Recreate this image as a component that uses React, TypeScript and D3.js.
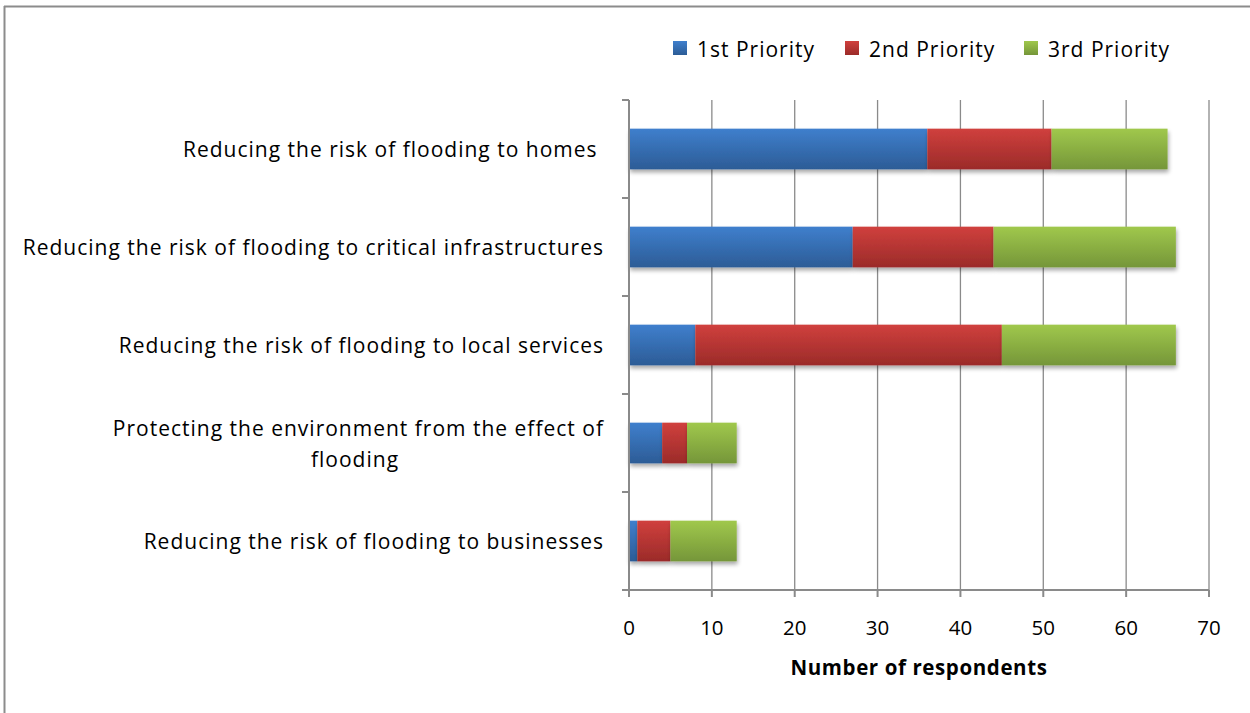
import React from "react";
import * as d3 from "d3";

const categories = [
  "Reducing the risk of flooding to homes ",
  "Reducing the risk of flooding to critical infrastructures",
  "Reducing the risk of flooding to local services",
  "Protecting the environment from the effect of flooding",
  "Reducing the risk of flooding to businesses",
];
const labelLines = [
  ["Reducing the risk of flooding to homes "],
  ["Reducing the risk of flooding to critical infrastructures"],
  ["Reducing the risk of flooding to local services"],
  ["Protecting the environment from the effect of", "flooding"],
  ["Reducing the risk of flooding to businesses"],
];
const seriesNames = ["1st Priority", "2nd Priority", "3rd Priority"];
const first = [36, 27, 8, 4, 1];
const second = [15, 17, 37, 3, 4];
const third = [14, 22, 21, 6, 8];
const xTicks = [0, 10, 20, 30, 40, 50, 60, 70];

const gradients = [
  ["#3f7fcd", "#2c5c96"],
  ["#d0403d", "#9b2b29"],
  ["#a0c84c", "#759639"],
];

const W = 1250;
const H = 713;
const M = { left: 629, right: 1209, top: 100, bottom: 590 };
const FONT = "'Open Sans', 'Noto Sans', sans-serif";
const FS = 21;
const LS = 1;

export default function App() {
  const x = d3.scaleLinear().domain([0, 70]).range([M.left, M.right]);
  const y = d3
    .scaleBand<string>()
    .domain(categories)
    .range([M.top, M.bottom])
    .paddingInner(0.585)
    .paddingOuter(0.2925);
  const rows = categories.map((c, i) => ({ c, v: [first[i], second[i], third[i]] }));
  const stack = d3.stack<any>().keys(["0", "1", "2"]).value((d: any, k) => d.v[+k]);
  const stacked = stack(rows);
  const boundaries = d3.range(categories.length + 1).map((i) => M.top + (i * (M.bottom - M.top)) / categories.length);
  const legendX = [673, 845, 1024];

  return (
    <div style={{ position: "fixed", left: 0, top: 0 }}>
      <svg width={W} height={H} style={{ display: "block" }}>
        <defs>
          {gradients.map((g, i) => (
            <linearGradient key={i} id={`g${i}`} x1="0" y1="0" x2="0" y2="1">
              <stop offset="0" stopColor={g[0]} />
              <stop offset="1" stopColor={g[1]} />
            </linearGradient>
          ))}
          <filter id="sh" x="-5%" y="-20%" width="110%" height="160%">
            <feGaussianBlur in="SourceAlpha" stdDeviation="2" />
            <feOffset dx="1" dy="3" result="b" />
            <feComponentTransfer>
              <feFuncA type="linear" slope="0.35" />
            </feComponentTransfer>
            <feMerge>
              <feMergeNode />
              <feMergeNode in="SourceGraphic" />
            </feMerge>
          </filter>
        </defs>
        <rect x={0} y={0} width={W} height={H} fill="#fff" />
        {/* frame */}
        <line x1={4.5} y1={6} x2={4.5} y2={H} stroke="#8c8c8c" strokeWidth={2} />
        <line x1={4} y1={6.5} x2={W} y2={6.5} stroke="#8c8c8c" strokeWidth={2} />

        {/* gridlines */}
        {xTicks.slice(1).map((t) => (
          <line key={t} x1={x(t)} x2={x(t)} y1={M.top} y2={M.bottom} stroke="#8a8a8a" strokeWidth={1.3} />
        ))}

        {/* bars */}
        {stacked.map((s, si) => (
          <g key={si} filter="url(#sh)">
            {s.map((d, i) => (
              <rect
                key={i}
                x={x(d[0])}
                y={y(categories[i])}
                width={x(d[1]) - x(d[0])}
                height={y.bandwidth()}
                fill={`url(#g${si})`}
              />
            ))}
          </g>
        ))}

        {/* axes */}
        <line x1={M.left} x2={M.left} y1={M.top} y2={M.bottom + 7} stroke="#8a8a8a" strokeWidth={2} />
        {boundaries.map((b, i) => (
          <line key={i} x1={M.left - 7} x2={M.left} y1={b} y2={b} stroke="#8a8a8a" strokeWidth={2} />
        ))}
        <line x1={M.left - 7} x2={M.right} y1={M.bottom} y2={M.bottom} stroke="#8a8a8a" strokeWidth={2} />
        {xTicks.map((t) => (
          <line key={t} x1={x(t)} x2={x(t)} y1={M.bottom} y2={M.bottom + 7} stroke="#8a8a8a" strokeWidth={2} />
        ))}
        {xTicks.map((t) => (
          <text key={t} x={x(t)} y={635} textAnchor="middle" fontFamily={FONT} fontSize={20.5} fill="#000">
            {t}
          </text>
        ))}
        <text x={919} y={675} textAnchor="middle" fontFamily={FONT} fontSize={20.5} fontWeight="bold" letterSpacing={0.6} fill="#000">
          Number of respondents
        </text>

        {/* category labels */}
        {categories.map((c, i) => {
          const lines = labelLines[i];
          const cy = (y(c) as number) + y.bandwidth() / 2;
          const lh = 31;
          const y0 = cy - ((lines.length - 1) * lh) / 2 + 8;
          return (
            <text key={c} fontFamily={FONT} fontSize={FS} letterSpacing={LS} fill="#000" style={{ whiteSpace: "pre" }}>
              {lines.map((l, j) => {
                const centered = lines.length > 1 && j === 1;
                return (
                  <tspan key={j} x={centered ? 355 : 604} y={y0 + j * lh} textAnchor={centered ? "middle" : "end"}>
                    {l}
                  </tspan>
                );
              })}
            </text>
          );
        })}

        {/* legend */}
        {seriesNames.map((n, i) => (
          <g key={n}>
            <rect x={legendX[i]} y={41} width={14} height={14} fill={`url(#g${i})`} />
            <text x={legendX[i] + 24} y={57} fontFamily={FONT} fontSize={FS} letterSpacing={LS} fill="#000">
              {n}
            </text>
          </g>
        ))}
      </svg>
    </div>
  );
}
